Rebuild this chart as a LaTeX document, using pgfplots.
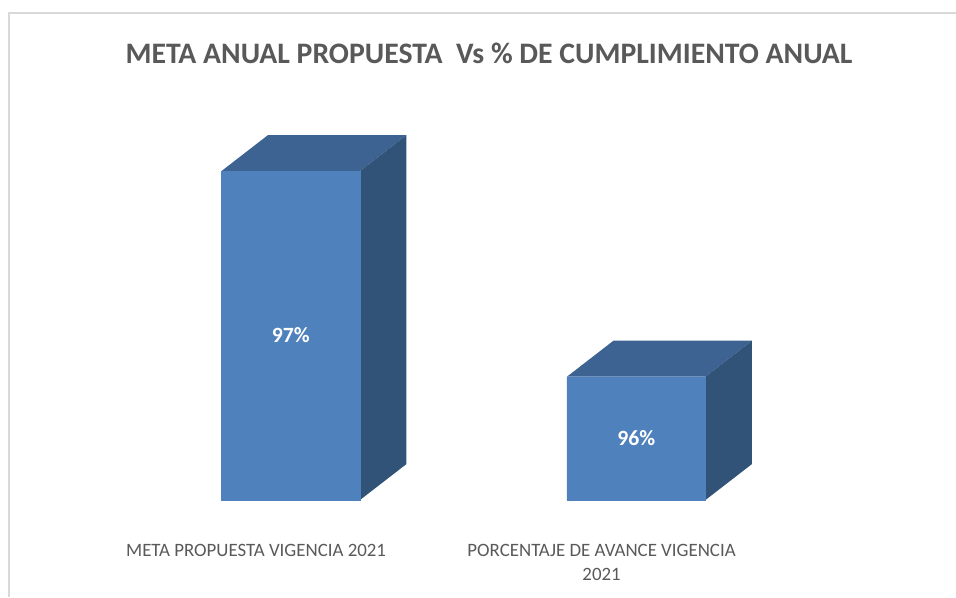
\documentclass[border=0pt]{standalone}
\usepackage{fontspec}
\setmainfont{Carlito}
\usepackage{pgfplots}
\pgfplotsset{compat=1.18}
\definecolor{frontblue}{HTML}{4F81BD}
\definecolor{topblue}{HTML}{3D6392}
\definecolor{sideblue}{HTML}{325378}
\definecolor{txtgray}{HTML}{595959}
\definecolor{framegray}{HTML}{D9D9D9}

\begin{document}
\begin{tikzpicture}
\useasboundingbox (0,0) rectangle (717pt,447.75pt);
% frame: top and left only, the crop cuts the rest
\draw[framegray, line width=1.7pt] (6.9pt,0) -- (6.9pt,438pt) -- (717pt,438pt);
\begin{axis}[
    at={(0pt,72.75pt)},
    anchor=south west,
    scale only axis,
    width=717pt,
    height=375pt,
    xmin=-0.8415, xmax=1.9255,
    ymin=95.4, ymax=97.832,
    axis line style={draw=none},
    tick style={draw=none},
    major tick length=0pt,
    ytick=\empty,
    xtick={0,1},
    xticklabels={META PROPUESTA VIGENCIA 2021,{PORCENTAJE DE AVANCE VIGENCIA\\2021}},
    xticklabel style={align=center, font=\fontsize{14.15}{18}\selectfont, text=txtgray, xshift=-26pt, yshift=-29.5pt},
    bar width=0.4009,
    title={META ANUAL PROPUESTA\ \ Vs \% DE CUMPLIMIENTO ANUAL},
    title style={at={(axis description cs:0.5115,0.878)}, anchor=center, font=\fontsize{22.3}{26}\selectfont\bfseries, text=txtgray},
]
% tops
\addplot[fill=topblue, draw=none] coordinates {(-0.2004,97) (-0.0658,97.175) (0.3350,97.175) (0.2004,97)} -- cycle;
\addplot[fill=topblue, draw=none] coordinates {(0.7996,96) (0.9342,96.175) (1.3350,96.175) (1.2004,96)} -- cycle;
% sides
\addplot[fill=sideblue, draw=none] coordinates {(0.2004,97) (0.3350,97.175) (0.3350,95.575) (0.2004,95.4)} -- cycle;
\addplot[fill=sideblue, draw=none] coordinates {(1.2004,96) (1.3350,96.175) (1.3350,95.575) (1.2004,95.4)} -- cycle;
% fronts
\addplot[ybar, bar shift=0pt, fill=frontblue, draw=frontblue, line width=0.2pt] coordinates {(0,97) (1,96)};
\node[text=white, font=\fontsize{16.3}{18}\selectfont\bfseries] at (axis cs:0,96.2) {97\%};
\node[text=white, font=\fontsize{16.3}{18}\selectfont\bfseries] at (axis cs:1,95.7) {96\%};
\end{axis}
\end{tikzpicture}
\end{document}
